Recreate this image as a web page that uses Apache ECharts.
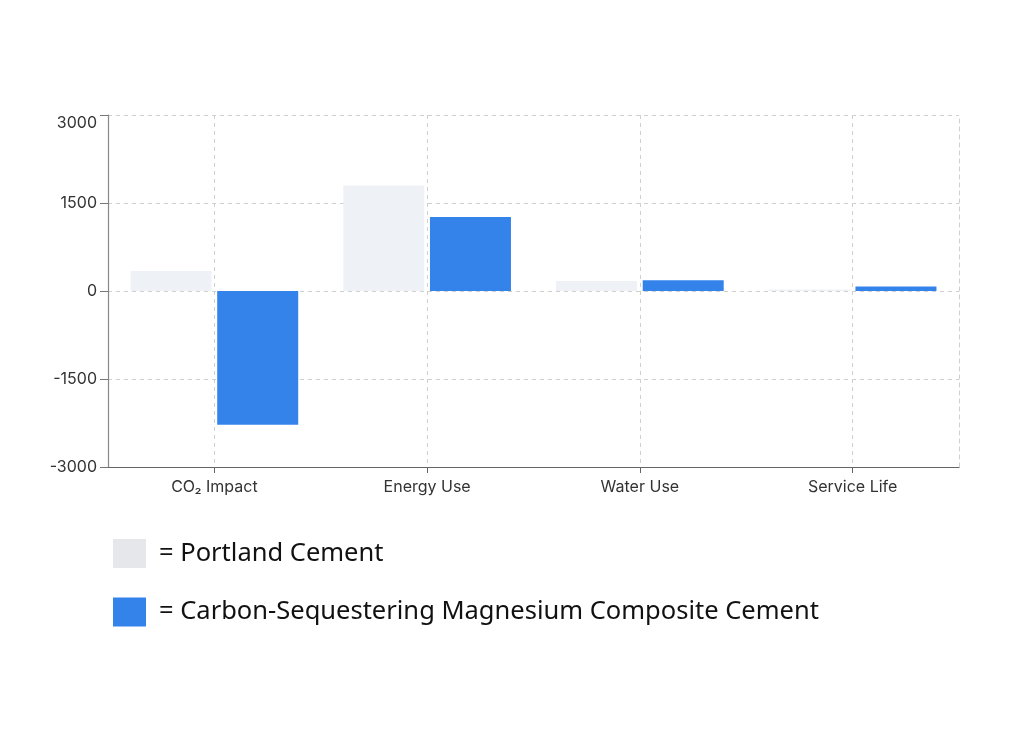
<!DOCTYPE html>
<html>
<head>
<meta charset="utf-8">
<script src="https://cdn.jsdelivr.net/npm/echarts@6/dist/echarts.min.js"></script>
<style>
html,body{margin:0;padding:0;background:#fff;}
#chart{width:1024px;height:736px;}
</style>
</head>
<body>
<div id="chart"></div>
<script>
const categories = ['CO\u2082 Impact', 'Energy Use', 'Water Use', 'Service Life'];
const seriesNames = ['Portland Cement', 'Carbon-Sequestering Magnesium Composite Cement'];
const portlandValues = [340, 1800, 170, 25];
const magnesiumValues = [-2280, 1260, 185, 75];
const yMin = -3000, yMax = 3000, yInterval = 1500;

const chart = echarts.init(document.getElementById('chart'));
const gridColor = '#cfcfcf';
chart.setOption({
  backgroundColor: '#ffffff',
  animation: false,
  grid: { left: 108, right: 65, top: 115, bottom: 269 },
  legend: {
    orient: 'vertical',
    left: 113,
    top: 539,
    padding: 0,
    itemWidth: 33,
    itemHeight: 29,
    itemGap: 29.5,
    icon: 'rect',
    selectedMode: false,
    formatter: '= {name}',
    textStyle: { fontFamily: 'Noto Sans', fontSize: 25.5, lineHeight: 25, color: '#111', padding: [4, 0, 0, 8] },
    data: [
      { name: seriesNames[0], itemStyle: { color: '#e5e7eb' } },
      { name: seriesNames[1], itemStyle: { color: '#3483eb' } }
    ]
  },
  xAxis: {
    type: 'category',
    data: categories,
    axisLine: { onZero: false, lineStyle: { color: '#666', width: 1.2 } },
    axisTick: { show: true, alignWithLabel: true, length: 6, lineStyle: { color: '#666' } },
    axisLabel: { color: '#333', fontSize: 16, fontFamily: 'Inter', margin: 12 },
    splitLine: { show: true, alignWithLabel: true, lineStyle: { color: gridColor, type: [4, 4] } }
  },
  yAxis: [{
    type: 'value',
    min: yMin, max: yMax, interval: yInterval,
    axisLine: { show: true, lineStyle: { color: '#888', width: 1.2 } },
    axisTick: { show: true, length: 8, lineStyle: { color: '#777' } },
    axisLabel: {
      color: '#333', fontSize: 16, fontFamily: 'Inter', margin: 11,
      formatter: function (v) { return String(v); },
      verticalAlignMaxLabel: 'top'
    },
    splitLine: { show: true, lineStyle: { color: gridColor, type: [4, 4] } }
  }, {
    type: 'value',
    position: 'right',
    min: yMin, max: yMax, interval: yInterval,
    axisLine: { show: true, lineStyle: { color: gridColor, type: [4, 4] } },
    axisTick: { show: false },
    axisLabel: { show: false },
    splitLine: { show: false }
  }],
  series: [{
    name: seriesNames[0],
    type: 'bar',
    data: portlandValues,
    barWidth: 81,
    barGap: '7%',
    itemStyle: { color: '#eef2f7' }
  }, {
    name: seriesNames[1],
    type: 'bar',
    data: magnesiumValues,
    barWidth: 81,
    barGap: '7%',
    itemStyle: { color: '#3483eb' }
  }]
});
</script>
</body>
</html>
